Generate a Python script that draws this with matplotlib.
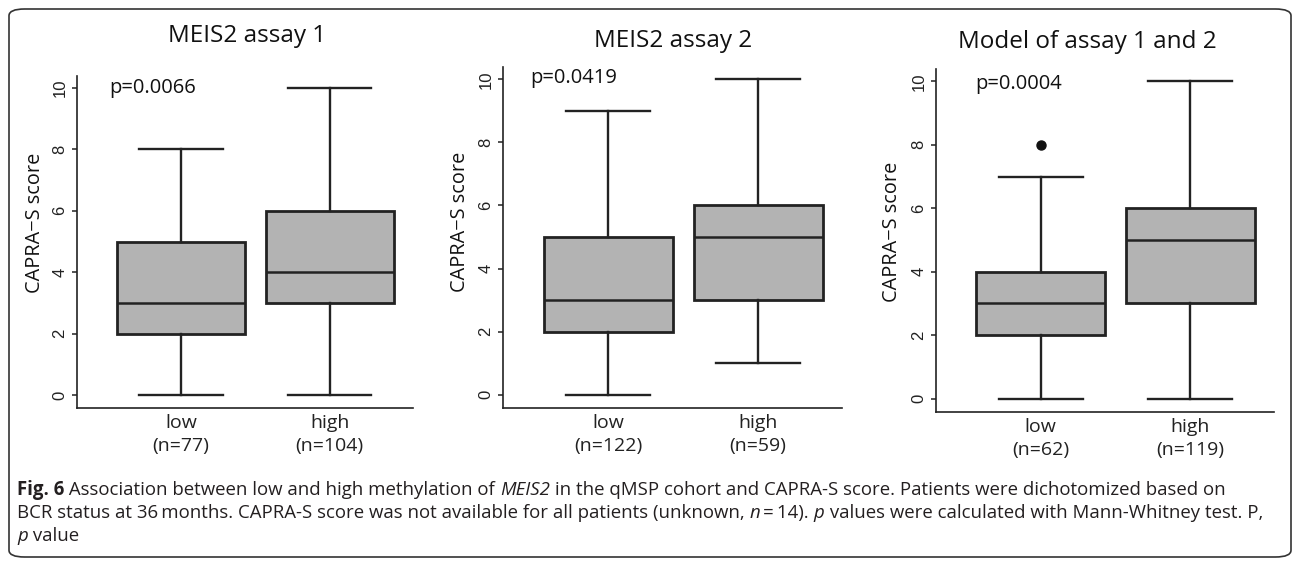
import matplotlib
matplotlib.use("Agg")
import matplotlib.pyplot as plt
from matplotlib.patches import FancyBboxPatch

W, H = 1295, 563
DPI = 100

# ---- data ----
titles = ["MEIS2 assay 1", "MEIS2 assay 2", "Model of assay 1 and 2"]
p_values = ["p=0.0066", "p=0.0419", "p=0.0004"]
groups = ["low", "high"]
n_counts = [[77, 104], [122, 59], [62, 119]]
# whisker low, q1, median, q3, whisker high
whislo = [[0, 0], [0, 1], [0, 0]]
q1 = [[2, 3], [2, 3], [2, 3]]
med = [[3, 4], [3, 5], [3, 5]]
q3 = [[5, 6], [5, 6], [4, 6]]
whishi = [[8, 10], [9, 10], [7, 10]]
fliers = [[[], []], [[], []], [[8], []]]
yticks = [0, 2, 4, 6, 8, 10]

# ---- layout in pixels (left, right, top, bottom of plot region) ----
panels = [(77, 413, 76, 408), (503, 842, 67, 408), (936, 1274, 69, 412)]
title_pos = [(247, 36), (673, 41), (1087, 42)]
pval_pos = [(109, 88), (530, 78), (975, 84)]
ylab_pos = [(35, 223), (460, 222), (892, 232)]

SANS = ["Open Sans", "DejaVu Sans"]
TICKFONT = ["Liberation Sans", "DejaVu Sans"]
DARK = "#222222"

fig = plt.figure(figsize=(W / DPI, H / DPI), dpi=DPI)


def fx(px):
    return px / W


def fy(py):
    return 1 - py / H


for i in range(3):
    l, r, t, b = panels[i]
    ax = fig.add_axes([fx(l), fy(b), (r - l) / W, (b - t) / H])
    stats = []
    for j in range(2):
        stats.append(dict(whislo=whislo[i][j], q1=q1[i][j], med=med[i][j],
                          q3=q3[i][j], whishi=whishi[i][j],
                          fliers=fliers[i][j], label=groups[j]))
    ax.bxp(stats, positions=[1, 2], widths=0.86, capwidths=0.56,
           patch_artist=True,
           boxprops=dict(facecolor="#b3b3b3", edgecolor=DARK, linewidth=2.0),
           medianprops=dict(color=DARK, linewidth=1.8),
           whiskerprops=dict(color=DARK, linewidth=1.7),
           capprops=dict(color=DARK, linewidth=1.7),
           flierprops=dict(marker="o", markerfacecolor="#111111",
                           markeredgecolor="#111111", markersize=6.5))
    ax.set_xlim(0.3, 2.56)
    ax.set_ylim(-0.42, 10.39)
    for s in ["top", "right"]:
        ax.spines[s].set_visible(False)
    for s in ["left", "bottom"]:
        ax.spines[s].set_linewidth(1.2)
        ax.spines[s].set_color(DARK)
    ax.set_yticks(yticks)
    ax.set_yticklabels([str(v) for v in yticks], rotation=90, va="center",
                       family=TICKFONT, fontsize=12, color=DARK)
    ax.tick_params(axis="y", length=3.5, width=1.1, pad=3.5, color=DARK)
    ax.set_xticks([1, 2])
    ax.set_xticklabels([f"{g}\n(n={n})" for g, n in zip(groups, n_counts[i])],
                       family=SANS, fontsize=14, color=DARK, linespacing=1.4)
    ax.tick_params(axis="x", length=0, pad=4)
    ax.set_facecolor("none")

    fig.text(fx(title_pos[i][0]), fy(title_pos[i][1]), titles[i], ha="center",
             va="center", family=SANS, fontsize=17.5, color="#111111")
    fig.text(fx(pval_pos[i][0]), fy(pval_pos[i][1]), p_values[i], ha="left",
             va="center", family=SANS, fontsize=14.5, color="#111111")
    fig.text(fx(ylab_pos[i][0]), fy(ylab_pos[i][1]), "CAPRA\u2212S score",
             ha="center", va="center", rotation=90, family=SANS, fontsize=14.3,
             color="#111111")

# rounded frame around the whole figure
frame = FancyBboxPatch((fx(9), fy(557)), (1291 - 9) / W, (557 - 9) / H,
                       boxstyle="round,pad=0,rounding_size=0.012",
                       transform=fig.transFigure, facecolor="none",
                       edgecolor="#333333", linewidth=1.2)
fig.patches.append(frame)

# caption with mixed styles
caption = [
    [("Fig. 6", "bold", "normal"),
     (" Association between low and high methylation of ", "normal", "normal"),
     ("MEIS2", "normal", "italic"),
     (" in the qMSP cohort and CAPRA-S score. Patients were dichotomized based on",
      "normal", "normal")],
    [("BCR status at 36\u2009months. CAPRA-S score was not available for all patients (unknown, ",
      "normal", "normal"),
     ("n", "normal", "italic"), ("\u2009=\u200914). ", "normal", "normal"),
     ("p", "normal", "italic"),
     (" values were calculated with Mann-Whitney test. P,", "normal", "normal")],
    [("p", "normal", "italic"), (" value", "normal", "normal")],
]
cap_y = [490, 513, 536]
renderer = fig.canvas.get_renderer()
for line, yy in zip(caption, cap_y):
    x = 17
    for txt, weight, style in line:
        t = fig.text(fx(x), fy(yy), txt, ha="left", va="center", family=SANS,
                     fontsize=13.45, fontweight=weight, fontstyle=style,
                     color="#231f20")
        bb = t.get_window_extent(renderer=renderer)
        x += bb.width

fig.savefig("out.png", dpi=DPI)
